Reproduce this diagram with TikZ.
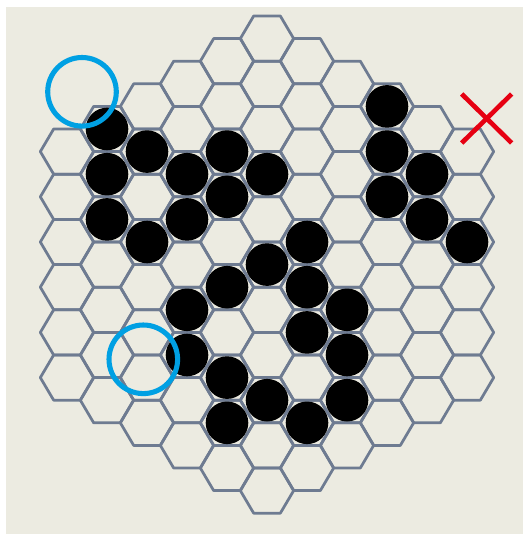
\documentclass[tikz,border=0pt]{standalone}
\definecolor{bgc}{HTML}{ECEBE1}
\definecolor{gridc}{HTML}{6E7B91}
\definecolor{ringc}{HTML}{00A0E3}
\definecolor{crossc}{HTML}{E60012}
\begin{document}
\begin{tikzpicture}[x=0.75pt,y=-0.75pt,
  grid/.style={draw=gridc,line width=2.05pt,line join=round},
  stone/.style={fill=black},
  ring/.style={draw=ringc,line width=3.8pt},
  cross/.style={draw=crossc,line width=3.5pt}]
\useasboundingbox (0,0) rectangle (523,534);
\fill[bgc] (6,7) rectangle (523,534);
\foreach \i in {0,...,10}{
  \pgfmathtruncatemacro\c{abs(\i-5)}
  \pgfmathtruncatemacro\n{10-\c}
  \foreach \k in {0,...,\n}{
    \pgfmathsetmacro\cx{67+40*\i}
    \pgfmathsetmacro\cy{38.6+22.6*\c+45.2*\k}
    \draw[grid] (\cx+26.67,\cy) -- (\cx+13.33,\cy-22.6) -- (\cx-13.33,\cy-22.6) -- (\cx-26.67,\cy) -- (\cx-13.33,\cy+22.6) -- (\cx+13.33,\cy+22.6) -- cycle;
  }
}
\foreach \i/\k in {1/0,2/1,1/1,3/2,4/2,5/3,4/3,1/2,3/3,2/3,8/0,8/1,9/1,8/2,9/2,10/2,6/4,5/5,4/5,6/5,3/5,7/5,6/6,3/6,7/6,4/7,5/8,7/7,4/8,6/8}{
  \pgfmathtruncatemacro\c{abs(\i-5)}
  \pgfmathsetmacro\cx{67+40*\i}
  \pgfmathsetmacro\cy{38.6+22.6*\c+45.2*\k}
  \fill[stone] (\cx,\cy) circle[radius=21.3];
}
\draw[ring] (82,91.8) circle[radius=34.3];
\draw[ring] (143.3,359.3) circle[radius=34.3];
\coordinate (xa) at (461.7,94);
\coordinate (xb) at (511.7,143);
\coordinate (xc) at (511.7,94);
\coordinate (xd) at (461.7,143);
\draw[cross] (xa) -- (xb);
\draw[cross] (xc) -- (xd);
\end{tikzpicture}
\end{document}
